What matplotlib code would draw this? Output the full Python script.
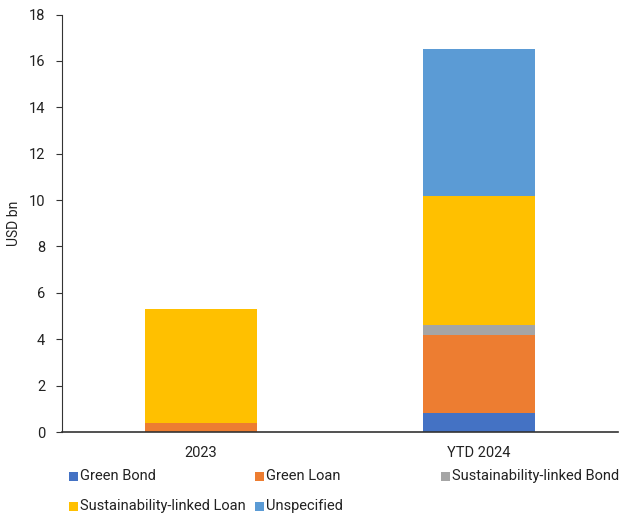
import numpy as np
import matplotlib.pyplot as plt
from matplotlib.patches import Rectangle

plt.rcParams['font.family'] = ['Roboto', 'DejaVu Sans']

periods = ['2023', 'YTD 2024']
series_names = ['Green Bond', 'Green Loan', 'Sustainability-linked Bond',
                'Sustainability-linked Loan', 'Unspecified']
green_bond = [0.0, 0.81]
green_loan = [0.40, 3.38]
sl_bond = [0.0, 0.44]
sl_loan = [4.90, 5.53]
unspecified = [0.0, 6.37]

colors = ['#4472C4', '#ED7D31', '#A5A5A5', '#FFC000', '#5B9BD5']
values = [green_bond, green_loan, sl_bond, sl_loan, unspecified]

W, H = 619, 515
fig = plt.figure(figsize=(W / 100, H / 100), dpi=100)
ax = fig.add_axes([62 / W, 83 / H, 556 / W, 417.5 / H])

x = np.arange(len(periods))
bottom = np.zeros(len(periods))
for vals, col in zip(values, colors):
    ax.bar(x, vals, width=0.4, bottom=bottom, color=col, linewidth=0)
    bottom += np.array(vals)

ax.set_xlim(-0.5, 1.5)
ax.set_ylim(0, 18)
ax.set_yticks(np.arange(0, 19, 2))
ax.set_xticks(x)
ax.set_xticklabels(periods)
ax.set_ylabel('USD bn', fontsize=10, color='#222222', labelpad=6)

for s in ['top', 'right']:
    ax.spines[s].set_visible(False)
ax.spines['left'].set_color('#333333')
ax.spines['bottom'].set_color('#333333')
ax.spines['bottom'].set_linewidth(1.2)
ax.tick_params(axis='y', length=4, color='#333333', labelsize=10.5,
               labelcolor='#222222', pad=8)
ax.tick_params(axis='x', length=0, labelsize=10.5, labelcolor='#222222', pad=10)

# legend laid out row by row, three slots per row
col_x = [69, 255, 441]
row_y = [476, 506]
for i, (name, col) in enumerate(zip(series_names, colors)):
    px = col_x[i % 3]
    py = row_y[i // 3]
    fig.add_artist(Rectangle((px / W, (H - py - 5) / H), 9 / W, 9 / H,
                             transform=fig.transFigure, facecolor=col,
                             edgecolor='none'))
    fig.text((px + 11) / W, (H - py) / H, name, fontsize=10.5,
             color='#222222', va='center', ha='left')

fig.savefig('out.png', dpi=100)
